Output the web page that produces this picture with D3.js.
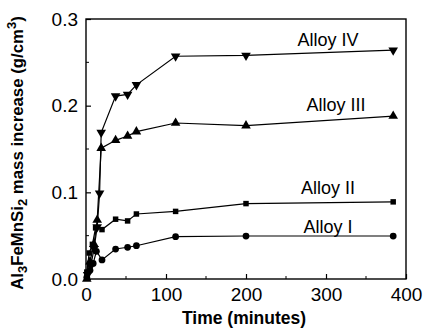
<!DOCTYPE html>
<html><head><meta charset="utf-8">
<script src="https://cdn.jsdelivr.net/npm/d3@7"></script>
<style>body{margin:0;background:#fff}svg{display:block}text{font-family:"Liberation Sans",Arial,sans-serif;fill:#000}</style>
</head><body><svg id="c" width="426" height="333"></svg>
<script>
// Data
const seriesNames = ["Alloy I", "Alloy II", "Alloy III", "Alloy IV"];
const timeI   = [1, 5, 9, 13, 20, 37, 52, 63, 112, 200, 384];
const alloyI  = [0.002, 0.010, 0.018, 0.032, 0.022, 0.0346, 0.0366, 0.0384, 0.0488, 0.0496, 0.0496];
const timeII  = [1, 4, 8, 12, 20, 37, 52, 63, 112, 200, 384];
const alloyII = [0.008, 0.030, 0.040, 0.059, 0.057, 0.069, 0.067, 0.075, 0.078, 0.087, 0.089];
const timeIII = [1, 5, 10, 14, 19, 37, 52, 63, 112, 200, 384];
const alloyIII= [0.0, 0.020, 0.040, 0.068, 0.151, 0.160, 0.165, 0.170, 0.180, 0.177, 0.188];
const timeIV  = [2, 6, 10, 14, 17, 19, 37, 52, 63, 112, 200, 384];
const alloyIV = [0.005, 0.015, 0.035, 0.060, 0.099, 0.169, 0.211, 0.213, 0.224, 0.257, 0.258, 0.264];
const xTicks = [0, 100, 200, 300, 400];
const yTicks = [0.0, 0.1, 0.2, 0.3];

const svg = d3.select("#c");
const x = d3.scaleLinear().domain([0, 400]).range([86, 406]);
const y = d3.scaleLinear().domain([0, 0.3]).range([279, 19]);

// frame
svg.append("rect").attr("x", 86).attr("y", 19).attr("width", 320).attr("height", 260)
  .attr("fill", "none").attr("stroke", "#000").attr("stroke-width", 1.4);

// axes (inward ticks)
const xAxis = svg.append("g").attr("transform", "translate(0,279)")
  .call(d3.axisBottom(x).tickValues(xTicks).tickFormat(d3.format("d")).tickSizeInner(-5).tickSizeOuter(0).tickPadding(9));
const yAxis = svg.append("g").attr("transform", "translate(86,0)")
  .call(d3.axisLeft(y).tickValues(yTicks).tickFormat(d3.format(".1f")).tickSizeInner(-5).tickSizeOuter(0).tickPadding(8));
[xAxis, yAxis].forEach(g => {
  g.select(".domain").remove();
  g.selectAll("line").attr("stroke", "#000").attr("stroke-width", 1.2);
  g.selectAll("text").attr("font-size", 19).attr("fill", "#000").style("font-family", '"Liberation Sans",Arial,sans-serif');
});
// minor ticks
svg.append("g").selectAll("line").data([50, 150, 250, 350]).join("line")
  .attr("x1", d => x(d)).attr("x2", d => x(d)).attr("y1", 279).attr("y2", 276).attr("stroke", "#000");
svg.append("g").selectAll("line").data([0.05, 0.15, 0.25]).join("line")
  .attr("x1", 86).attr("x2", 89).attr("y1", d => y(d)).attr("y2", d => y(d)).attr("stroke", "#000");

// titles
svg.append("text").attr("x", 244).attr("y", 324).attr("text-anchor", "middle")
  .attr("font-size", 17.5).attr("font-weight", "bold").text("Time (minutes)");
const yt = svg.append("text").attr("transform", "translate(23,153) rotate(-90)")
  .attr("text-anchor", "middle").attr("font-size", 16.8).attr("font-weight", "bold");
yt.append("tspan").text("Al");
yt.append("tspan").attr("font-size", 13).attr("dy", 4).text("3");
yt.append("tspan").attr("dy", -4).text("FeMnSi");
yt.append("tspan").attr("font-size", 13).attr("dy", 4).text("2");
yt.append("tspan").attr("dy", -4).text(" mass increase (g/cm");
yt.append("tspan").attr("font-size", 13).attr("dy", -7).text("3");
yt.append("tspan").attr("dy", 7).text(")");

const series = [
  {t: timeI, v: alloyI, sym: d3.symbolCircle, size: 36, rot: 0},
  {t: timeII, v: alloyII, sym: d3.symbolSquare, size: 30, rot: 0},
  {t: timeIII, v: alloyIII, sym: d3.symbolTriangle, size: 40, rot: 0},
  {t: timeIV, v: alloyIV, sym: d3.symbolTriangle, size: 40, rot: 180}
];
const line = d3.line().x(d => x(d[0])).y(d => y(d[1]));
series.forEach(s => {
  const pts = s.t.map((t, i) => [t, s.v[i]]);
  svg.append("path").attr("d", line(pts)).attr("fill", "none").attr("stroke", "#000").attr("stroke-width", 1.2);
  svg.append("g").selectAll("path").data(pts).join("path")
    .attr("d", d3.symbol().type(s.sym).size(s.size))
    .attr("transform", d => `translate(${x(d[0])},${y(d[1])}) rotate(${s.rot})`)
    .attr("fill", "#000");
});

// series labels
const labelPos = [[328, 233], [328, 194], [336, 111], [328, 46]];
svg.append("g").selectAll("text").data(seriesNames).join("text")
  .attr("x", (d, i) => labelPos[i][0]).attr("y", (d, i) => labelPos[i][1])
  .attr("text-anchor", "middle").attr("font-size", 18).text(d => d);
</script></body></html>
